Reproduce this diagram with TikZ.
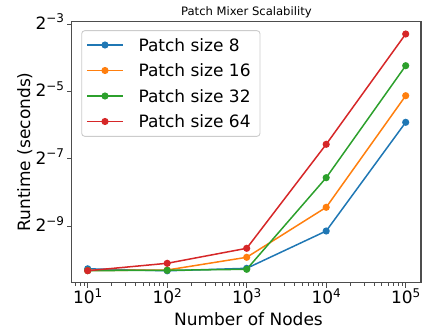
\documentclass[tikz,border=0pt]{standalone}
\usepackage{fontspec}
\setmainfont{DejaVu Sans}
% power label: base with a raised, smaller exponent
\newcommand\powlbl[2]{#1\raisebox{6.3pt}{\fontsize{12}{12}\selectfont #2}}

\definecolor{tabblue}{HTML}{1F77B4}
\definecolor{taborange}{HTML}{FF7F0E}
\definecolor{tabgreen}{HTML}{2CA02C}
\definecolor{tabred}{HTML}{D62728}
\definecolor{spinegray}{HTML}{4D4D4D}
\definecolor{legendedge}{HTML}{CCCCCC}

\begin{document}
\begin{tikzpicture}[x=1pt,y=-1pt,
  spine/.style={draw=spinegray,line width=1.1pt},
  tickmaj/.style={draw=spinegray,line width=1pt},
  tickmin/.style={draw=spinegray,line width=0.8pt},
  series/.style={line width=1.5pt,line join=round},
  lbl/.style={font=\fontsize{17}{20}\selectfont,inner sep=0pt},
  ttl/.style={font=\fontsize{11.6}{13}\selectfont,inner sep=0pt},
  legframe/.style={fill=white,fill opacity=0.8,draw=legendedge,line width=0.9pt,rounded corners=3pt},
]
\useasboundingbox (0,0) rectangle (423,329);

% axes frame corners
\coordinate (ll) at (71.7,282.8);
\coordinate (ur) at (421.0,21.7);

% x ticks (decades) and labels
\foreach \k/\xx in {1/87.7,2/167.2,3/246.7,4/326.2,5/405.7}{
  \draw[tickmaj] (\xx,282.8) -- (\xx,287.5);
  \node[lbl,anchor=base] (xt\k) at (\xx,303.3) {\powlbl{10}{\k}};
}
% x minor ticks
\foreach \k in {0,...,4}{
  \foreach \s in {2,...,9}{
    \pgfmathsetmacro\mx{87.7+(\k+ln(\s)/ln(10)-1)*79.5}
    \pgfmathparse{(\mx>72)&&(\mx<420.5)?1:0}
    \ifnum\pgfmathresult=1
      \draw[tickmin] (\mx,282.8) -- (\mx,285.6);
    \fi
  }
}

% y ticks and labels
\foreach \e/\yy in {3/24.1,5/91.5,7/158.9,9/226.3}{
  \draw[tickmaj] (71.7,\yy) -- (67.0,\yy);
  \node[lbl,anchor=base east] (yt\e) at (64.3,\yy+5.2) {\powlbl{2}{−\e}};
}

% data series
\draw[series,tabblue] plot coordinates {(87.7,268.8) (167.2,270.8) (246.7,268.3) (326.2,231.0) (405.7,122.3)};
\foreach \p in {(87.7,268.8),(167.2,270.8),(246.7,268.3),(326.2,231.0),(405.7,122.3)}
  \fill[tabblue] \p circle[radius=3.6];

\draw[series,taborange] plot coordinates {(87.7,270.5) (167.2,270.0) (246.7,257.3) (326.2,207.3) (405.7,95.7)};
\foreach \p in {(87.7,270.5),(167.2,270.0),(246.7,257.3),(326.2,207.3),(405.7,95.7)}
  \fill[taborange] \p circle[radius=3.6];

\draw[series,tabgreen] plot coordinates {(87.7,270.6) (167.2,270.3) (246.7,269.3) (326.2,177.7) (405.7,65.7)};
\foreach \p in {(87.7,270.6),(167.2,270.3),(246.7,269.3),(326.2,177.7),(405.7,65.7)}
  \fill[tabgreen] \p circle[radius=3.6];

\draw[series,tabred] plot coordinates {(87.7,270.7) (167.2,263.3) (246.7,248.3) (326.2,144.3) (405.7,34.0)};
\foreach \p in {(87.7,270.7),(167.2,263.3),(246.7,248.3),(326.2,144.3),(405.7,34.0)}
  \fill[tabred] \p circle[radius=3.6];

% axes frame
\draw[spine] (ll) rectangle (ur);

% legend
\draw[legframe] (81.7,30.7) rectangle (260.0,136.3);
\foreach \c/\t/\yy [count=\i] in {tabblue/8/45.0,taborange/16/70.5,tabgreen/32/96.0,tabred/64/121.5}{
  \draw[series,\c] (87.0,\yy) -- (123.0,\yy);
  \fill[\c] (105.0,\yy) circle[radius=3.6];
  \node[lbl,anchor=base west] (leg\i) at (138.3,\yy+6.3) {Patch size \t};
}

% titles
\node[ttl,anchor=base] (title) at (246.4,16.0) {Patch Mixer Scalability};
\node[lbl,anchor=base] (xlabel) at (248.5,325.0) {Number of Nodes};
\node[lbl,anchor=base,rotate=90] (ylabel) at (30.0,152.0) {Runtime (seconds)};
\end{tikzpicture}
\end{document}
